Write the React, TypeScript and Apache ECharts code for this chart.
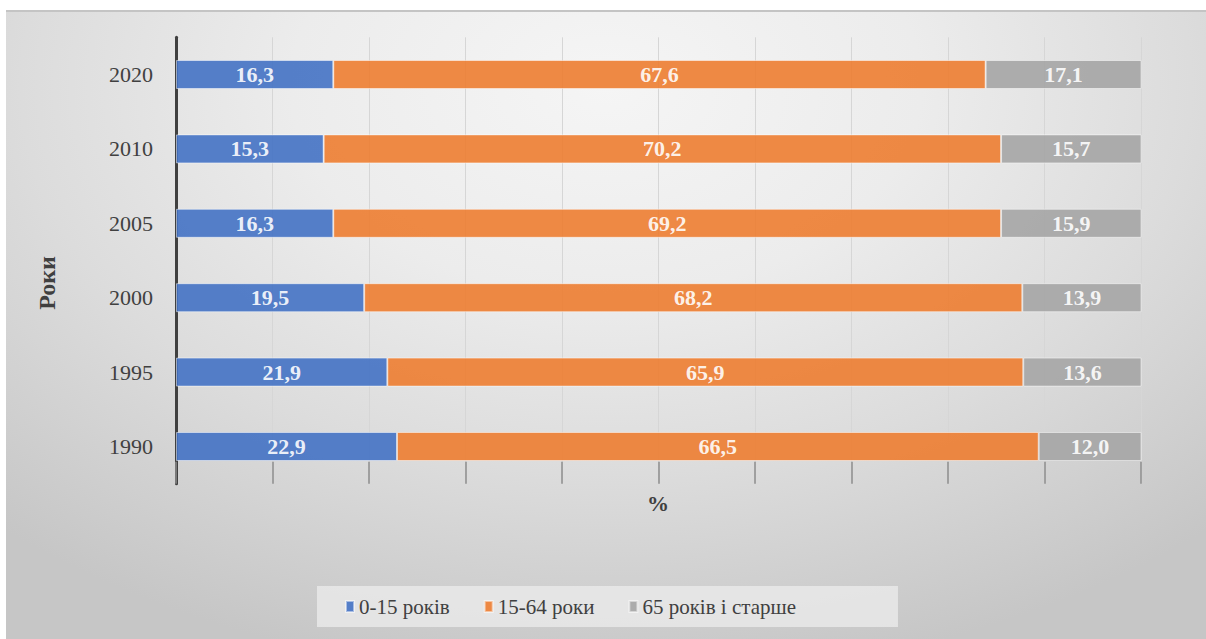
import React, { useEffect, useRef } from "react";
import * as echarts from "echarts";

const years = ["1990", "1995", "2000", "2005", "2010", "2020"];
const young = [22.9, 21.9, 19.5, 16.3, 15.3, 16.3];
const working = [66.5, 65.9, 68.2, 69.2, 70.2, 67.6];
const old = [12.0, 13.6, 13.9, 15.9, 15.7, 17.1];
const seriesNames = ["0-15 років", "15-64 роки", "65 років і старше"];
const colors = ["#4472C4", "#ED7D31", "#A5A5A5"];

const FONT = "Liberation Serif";

export default function App() {
  const ref = useRef<HTMLDivElement>(null);
  useEffect(() => {
    if (!ref.current) return;
    const chart = echarts.init(ref.current, undefined, { renderer: "svg" });
    const raw = [young, working, old];
    const fmt = (v: number) => v.toFixed(1).replace(".", ",");
    const series = raw.map((arr, s) => ({
      name: seriesNames[s],
      type: "bar",
      stack: "total",
      barWidth: 29,
      clip: true,
      data: arr,
      itemStyle: {
        color: colors[s],
        opacity: 0.9,
        borderColor: "rgba(255,255,255,0.55)",
        borderWidth: 1,
      },
      label: {
        show: true,
        position: "inside",
        color: "#ffffff",
        fontFamily: FONT,
        fontWeight: "bold",
        fontSize: 22,
        formatter: (p: any) => fmt(arr[p.dataIndex]),
      },
    }));
    chart.setOption({
      animation: false,
      backgroundColor: "transparent",
      textStyle: { fontFamily: FONT },
      grid: { left: 170, right: 65, top: 27.3, bottom: 155.3, containLabel: false },
      xAxis: {
        type: "value",
        min: 0,
        max: 100,
        interval: 10,
        axisLabel: { show: false },
        axisLine: { show: false },
        axisTick: { show: true, inside: true, length: 22, lineStyle: { color: "#8c8c8c", width: 1.5 } },
        splitLine: { show: true, lineStyle: { color: "#d6d6d6", width: 1 } },
      },
      yAxis: {
        type: "category",
        data: years,
        axisLine: { show: true, lineStyle: { color: "#404040", width: 3 } },
        axisTick: { show: false },
        axisLabel: { color: "#404040", fontFamily: FONT, fontSize: 22, margin: 23 },
      },
      legend: {
        data: seriesNames,
        left: 311,
        top: 576,
        padding: [10, 102, 10, 28],
        backgroundColor: "rgba(236,236,236,0.75)",
        itemWidth: 8,
        itemHeight: 11,
        itemGap: 34,
        icon: "rect",
        textStyle: { color: "#404040", fontFamily: FONT, fontSize: 21 },
      },
      graphic: [
        {
          type: "text",
          x: 652,
          y: 493,
          style: {
            text: "%",
            fontFamily: FONT,
            fontWeight: "bold",
            fontSize: 22,
            fill: "#404040",
            textAlign: "center",
            textVerticalAlign: "middle",
          },
        },
        {
          type: "text",
          x: 40.5,
          y: 273,
          rotation: Math.PI / 2,
          style: {
            text: "Роки",
            fontFamily: FONT,
            fontWeight: "bold",
            fontSize: 24,
            fill: "#404040",
            textAlign: "center",
            textVerticalAlign: "middle",
          },
        },
      ],
      series,
    });
    return () => chart.dispose();
  }, []);
  return (
    <div style={{ position: "fixed", left: 0, top: 0, width: 1206, height: 639, background: "#ffffff" }}>
      <div
        ref={ref}
        style={{
          position: "absolute",
          left: 6,
          top: 10,
          width: 1200,
          height: 629,
          background:
            "radial-gradient(ellipse 75% 95% at 50% 12%, #f5f5f5 0%, #ececec 35%, #dcdcdc 65%, #c6c6c6 100%)",
          boxShadow: "inset 0 2px 0 #c4c4c4",
        }}
      />
    </div>
  );
}
